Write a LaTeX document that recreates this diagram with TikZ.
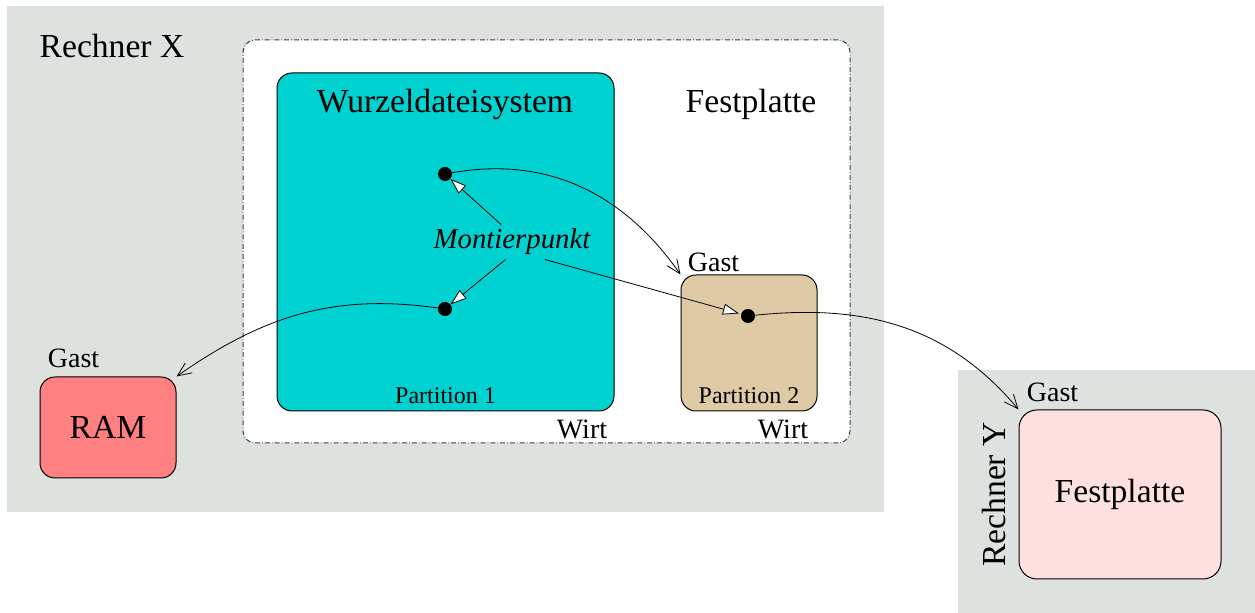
\documentclass[tikz,border=0pt]{standalone}
\usepackage{fontspec}
\setmainfont{Liberation Serif}
\usepackage{tikz}
\usetikzlibrary{arrows.meta, positioning, shapes}

\definecolor{bggray}{RGB}{222,226,222}
\definecolor{rootcyan}{RGB}{0,209,209}
\definecolor{parttan}{RGB}{222,203,166}
\definecolor{ramred}{RGB}{255,128,128}
\definecolor{diskpink}{RGB}{255,224,224}

\tikzset{
  box/.style={draw, line width=0.5pt, rounded corners=7.5pt, inner sep=0pt},
  bgbox/.style={fill=bggray, inner sep=0pt},
  lbl/.style={inner sep=1pt, font=\fontsize{14}{16}\selectfont},
  biglbl/.style={inner sep=1pt, font=\fontsize{16.8}{19}\selectfont},
  smalllbl/.style={inner sep=1pt, font=\fontsize{12}{14}\selectfont},
  mpoint/.style={circle, fill=black, minimum size=7pt, inner sep=0pt},
  barb/.style={-{Straight Barb[length=7pt,width=6pt]}, line width=0.4pt},
  hollow/.style={-{Triangle[length=8pt,width=5.5pt,fill=white]}, line width=0.4pt}
}

\begin{document}
\begin{tikzpicture}[x=0.5pt, y=-0.5pt]
\useasboundingbox (0,0) rectangle (1255,613);

\node[bgbox, minimum width=438.5pt, minimum height=253pt] (rx) at (445.5,259) {};
\node[bgbox, minimum width=148.5pt, minimum height=121.5pt] (ry) at (1106.5,491.5) {};

\node[box, fill=white, draw=black!75, rounded corners=6pt,
  dash pattern=on 2.5pt off 1pt on 0.4pt off 1pt,
  minimum width=303.5pt, minimum height=201.5pt] (host) at (546.5,241.5) {};

\node[box, fill=rootcyan, minimum width=168.5pt, minimum height=169pt] (root) at (445.5,242) {};
\node[box, fill=parttan, minimum width=68pt, minimum height=68pt] (part2) at (749,343) {};
\node[box, fill=ramred, minimum width=68pt, minimum height=50.5pt, biglbl] (ram) at (108,427.5) {RAM};
\node[box, fill=diskpink, rounded corners=9pt, minimum width=101pt, minimum height=84.5pt, biglbl] (disk) at (1120,494.5) {Festplatte};

\node[biglbl] (rxlbl) at (112,46) {Rechner X};
\node[biglbl, rotate=90, anchor=south] (rylbl) at ([xshift=-5pt]disk.west) {Rechner Y};
\node[biglbl] (rootlbl) at (445,104) {Wurzeldateisystem};
\node[biglbl] (hostlbl) at (751,104) {Festplatte};

\node[smalllbl, above=2.5pt of root.south] (p1) {Partition 1};
\node[smalllbl, above=2.5pt of part2.south] (p2) {Partition 2};
\node[lbl, below left=3pt and 2.5pt of root.south east] (wirt1) {Wirt};
\node[lbl, below left=3pt and 3.5pt of part2.south east] (wirt2) {Wirt};
\node[lbl, above right=0pt and 2.5pt of part2.north west] (gast1) {Gast};
\node[lbl, above right=3pt and 3pt of ram.north west] (gast2) {Gast};
\node[lbl, above right=2.5pt and 3pt of disk.north west] (gast3) {Gast};

\node[mpoint] (d1) at (445,174) {};
\node[mpoint] (d2) at (445,309) {};
\node[mpoint] (d3) at (748,316) {};

\node[lbl, inner sep=2pt, font=\fontsize{14.4}{16}\selectfont\itshape] (mp) at (512,242) {Montierpunkt};

\draw[barb] (d1) to[out=10, in=125] (part2.north west);
\draw[barb] (d2) to[out=172, in=35] (ram.north east);
\draw[barb] (d3) to[out=6, in=130] (disk.north west);

\draw[hollow] (mp.122) -- (d1);
\draw[hollow] (mp.250) -- (d2);
\draw[hollow, shorten >=1pt] (mp.332) -- (d3);
\end{tikzpicture}
\end{document}
